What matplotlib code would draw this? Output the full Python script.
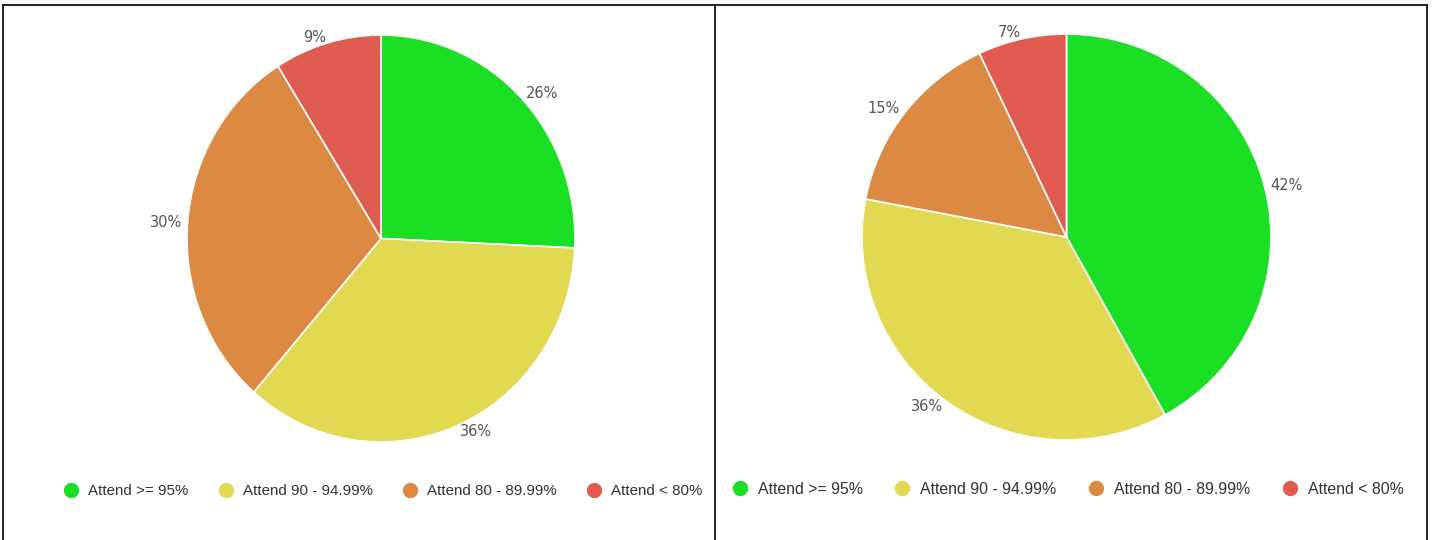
import matplotlib.pyplot as plt
from matplotlib.lines import Line2D

# categories and values (percent shares)
categories = ['Attend >= 95%', 'Attend 90 - 94.99%', 'Attend 80 - 89.99%', 'Attend < 80%']
colors = ['#1bdf24', '#e0d951', '#db8943', '#e05c50']
left_values = [26, 36, 30, 9]
right_values = [42, 36, 15, 7]

W, H = 1432, 540
fig = plt.figure(figsize=(W / 100, H / 100), dpi=100)
fig.patch.set_facecolor('white')

def px_axes(x0, y0, x1, y1):
    # axes box in figure fraction from pixel corners (y from top)
    return fig.add_axes([x0 / W, (H - y1) / H, (x1 - x0) / W, (y1 - y0) / H])

def draw_pie(ax, values):
    total = sum(values)
    labels = ['%.0f%%' % (v / total * 100) for v in values]
    wedges, texts = ax.pie(values, colors=colors, startangle=90, counterclock=False,
                           radius=1, labels=labels, labeldistance=1.03,
                           wedgeprops=dict(edgecolor='white', linewidth=1.2),
                           textprops=dict(color='#555555', fontsize=10.5,
                                          family='DejaVu Sans'))
    ax.set_xlim(-1, 1)
    ax.set_ylim(-1, 1)
    ax.set_aspect('auto')
    ax.axis('off')

ax1 = px_axes(187, 35, 575, 442)
draw_pie(ax1, left_values)
ax2 = px_axes(862, 34, 1271, 440)
draw_pie(ax2, right_values)

def handles(ms):
    return [Line2D([], [], marker='o', linestyle='', markersize=ms,
                   markerfacecolor=c, markeredgecolor=c) for c in colors]

fig.legend(handles(10), categories, loc='center', bbox_to_anchor=(383 / W, 1 - 491 / H),
           ncol=4, frameon=False, handletextpad=0.62, columnspacing=1.95,
           handlelength=1.0, prop=dict(family='Liberation Sans', size=10.9),
           labelcolor='#333333')
fig.legend(handles(10), categories, loc='center', bbox_to_anchor=(1067 / W, 1 - 489 / H),
           ncol=4, frameon=False, handletextpad=0.53, columnspacing=1.9,
           handlelength=1.2, prop=dict(family='Liberation Sans', size=11.4),
           labelcolor='#333333')

# panel borders
for xs, ys in [([3, 3], [5, 540]), ([715, 715], [5, 540]), ([1427, 1427], [5, 540]),
               ([3, 1427], [5, 5])]:
    fig.add_artist(Line2D([x / W for x in xs], [1 - y / H for y in ys],
                          color='#111111', linewidth=1.3))

fig.savefig('out.png', dpi=100)
